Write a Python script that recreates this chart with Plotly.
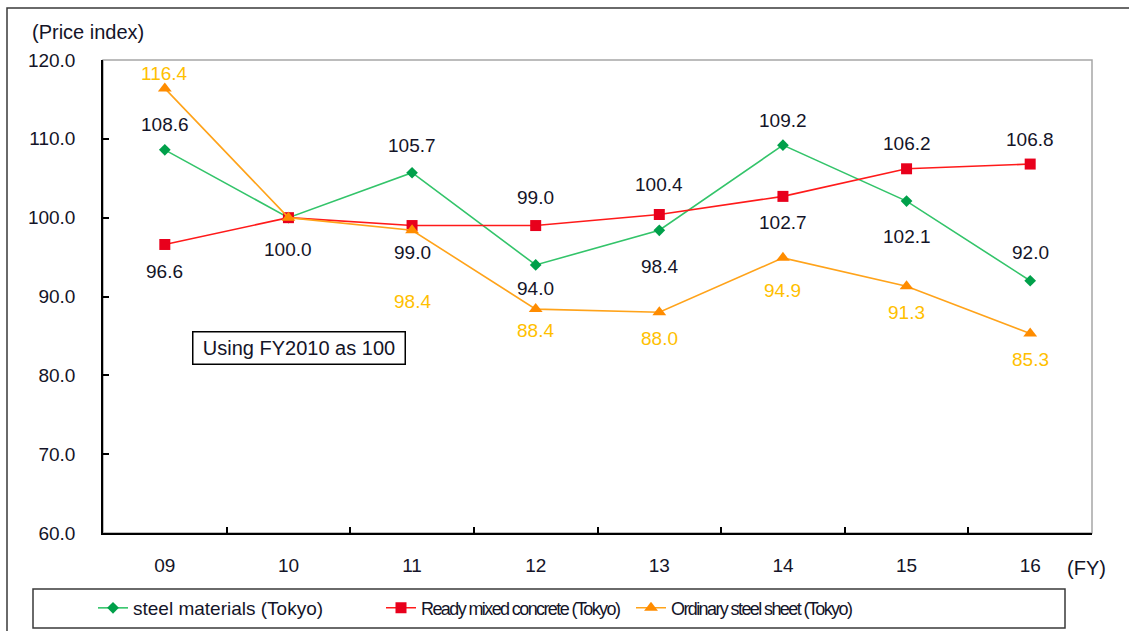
import plotly.graph_objects as go

years = ["09", "10", "11", "12", "13", "14", "15", "16"]
steel = [108.6, 100.0, 105.7, 94.0, 98.4, 109.2, 102.1, 92.0]
concrete = [96.6, 100.0, 99.0, 99.0, 100.4, 102.7, 106.2, 106.8]
sheet = [116.4, 100.0, 98.4, 88.4, 88.0, 94.9, 91.3, 85.3]
names = ["steel materials (Tokyo)", "Ready mixed concrete (Tokyo)", "Ordinary steel sheet (Tokyo)"]
y_ticks = [60, 70, 80, 90, 100, 110, 120]

# label vertical offsets in px (positive = below the point); None = no label
steel_off = [-25, 32, -27, 24, 36, -25, 35, -28]
concrete_off = [27, None, 27, -28, -30, 26, -25, -25]
sheet_off = [-15, None, 71, 21, 26, 33, 26, 26]

FONT = "Liberation Sans, Arial, sans-serif"
TXT = "#141428"
FS = 19

W, H = 1129, 631
L, R, T, B = 103, 1092, 60, 533
pw, ph = R - L, B - T
def px(x):
    return (x - L) / pw
def py(y):
    return (B - y) / ph

fig = go.Figure()
series = [
    (steel, names[0], "#33C46A", "#00A04A", "diamond", 9, steel_off, TXT, "legend", ""),
    (concrete, names[1], "#FF1A1A", "#E8001C", "square", 11, concrete_off, TXT, "legend2",
     "letter-spacing:-1.6px"),
    (sheet, names[2], "#FFA31A", "#FF8C00", "triangle-up", 12, sheet_off, "#FFC000", "legend3",
     "letter-spacing:-1.6px"),
]
for vals, nm, lc, mc, sym, ms, _, _, lg, sty in series:
    label = f'<span style="{sty}">{nm}</span>' if sty else nm
    fig.add_trace(go.Scatter(
        x=years, y=vals, name=label, mode="lines+markers", legend=lg,
        line=dict(color=lc, width=1.6),
        marker=dict(color=mc, symbol=sym, size=ms),
    ))

ann = []
for vals, nm, lc, mc, sym, ms, offs, tc, _, _ in series:
    for i, (yv, off) in enumerate(zip(vals, offs)):
        if off is None:
            continue
        ann.append(dict(x=i, y=yv, xref="x", yref="y", text=f"{yv:.1f}",
                        showarrow=False, yshift=-off, yanchor="middle",
                        font=dict(family=FONT, size=FS, color=tc)))

ann += [
    dict(x=px(30), y=py(32), xref="paper", yref="paper", xanchor="left", yanchor="middle",
         text="(Price index)", showarrow=False, font=dict(family=FONT, size=20, color=TXT)),
    dict(x=px(1086), y=py(568), xref="paper", yref="paper", xanchor="center", yanchor="middle",
         text="(FY)", showarrow=False, font=dict(family=FONT, size=20, color=TXT)),
    dict(x=px(299), y=py(348), xref="paper", yref="paper", xanchor="center", yanchor="middle",
         text="Using FY2010 as 100", showarrow=False, bordercolor="#000000", borderwidth=1.5,
         borderpad=4, width=203, height=23, align="center", bgcolor="white",
         font=dict(family=FONT, size=20, color=TXT)),
]

shapes = [
    dict(type="rect", xref="paper", yref="paper", x0=0, x1=1, y0=0, y1=1,
         line=dict(color="#A6A6A6", width=1.5), layer="below"),
    dict(type="rect", xref="paper", yref="paper", x0=px(7), x1=px(1140), y0=py(645), y1=py(8),
         line=dict(color="#3A3A3A", width=1.5)),
    dict(type="rect", xref="paper", yref="paper", x0=px(33), x1=px(1065), y0=py(628), y1=py(589),
         line=dict(color="#3A3A3A", width=1.5)),
]

def leg(xpix, size):
    return dict(orientation="h", x=px(xpix), y=py(608), xanchor="left", yanchor="middle",
                bgcolor="rgba(0,0,0,0)", borderwidth=0,
                font=dict(family=FONT, size=size, color=TXT))

fig.update_layout(
    width=W, height=H, autosize=False,
    margin=dict(l=L, r=W - R, t=T, b=H - B, pad=0, autoexpand=False),
    paper_bgcolor="white", plot_bgcolor="white",
    font=dict(family=FONT, size=FS, color=TXT),
    showlegend=True,
    legend=leg(93, FS), legend2=leg(381, 18), legend3=leg(631, 18),
    xaxis=dict(type="category", range=[-0.5, 7.5], showline=True, linecolor="#000000", linewidth=1.5,
               ticks="inside", ticklen=6, tickcolor="#000000", tickwidth=1.5,
               tickson="boundaries", showgrid=False, zeroline=False,
               ticklabelstandoff=14, fixedrange=True),
    yaxis=dict(range=[60, 120], tickvals=y_ticks, tickformat=".1f", showline=True,
               linecolor="#000000", linewidth=1.5, ticks="inside", ticklen=6,
               tickcolor="#000000", tickwidth=1.5, showgrid=False, zeroline=False,
               ticklabelstandoff=22, fixedrange=True),
    annotations=ann, shapes=shapes,
)

fig.write_html("out.html", config={"displayModeBar": False},
               post_script="document.body.style.margin='0';")
